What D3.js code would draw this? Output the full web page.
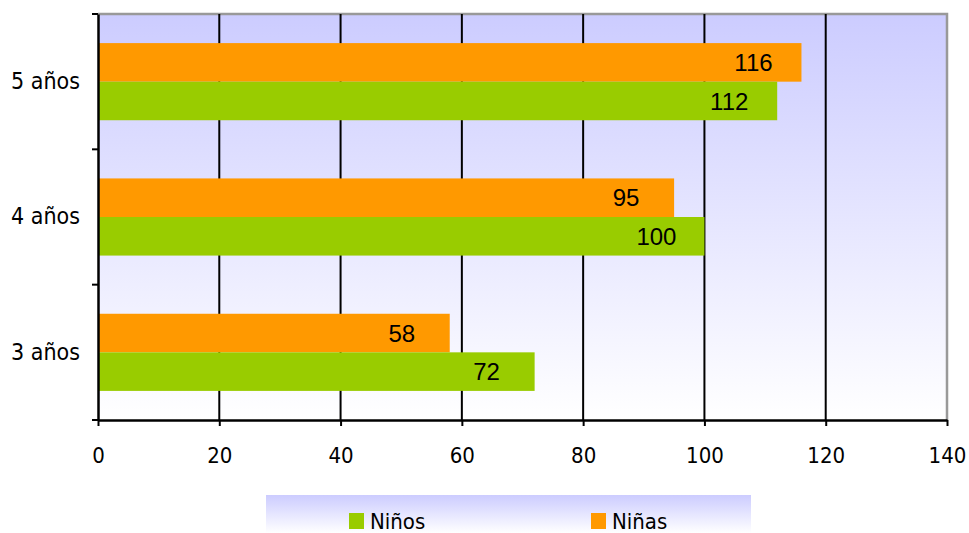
<!DOCTYPE html>
<html><head><meta charset="utf-8">
<script src="https://cdn.jsdelivr.net/npm/d3@7"></script>
<style>html,body{margin:0;padding:0;background:#fff;}svg{display:block;}</style>
</head><body>
<svg id="chart" width="969" height="533"></svg>
<script>
const categories = ["5 años", "4 años", "3 años"];
const seriesNames = ["Niñas", "Niños"];
const ninas = [116, 95, 58];
const ninos = [112, 100, 72];
const xTicks = [0, 20, 40, 60, 80, 100, 120, 140];
const legendOrder = ["Niños", "Niñas"];

const colors = {"Niños": "#99cc00", "Niñas": "#ff9900"};
const values = {"Niñas": ninas, "Niños": ninos};

const svg = d3.select("#chart");
const L = 98, R = 947, T = 14, B = 420;
const axisFont = "'DejaVu Sans Condensed', Tahoma, sans-serif";
const labelFont = "'Liberation Sans Narrow', 'Arial Narrow', sans-serif";

const defs = svg.append("defs");
const g1 = defs.append("linearGradient").attr("id", "bg").attr("x1", 0).attr("y1", 0).attr("x2", 0).attr("y2", 1);
g1.append("stop").attr("offset", "0%").attr("stop-color", "#ccccff");
g1.append("stop").attr("offset", "100%").attr("stop-color", "#ffffff");
const g2 = defs.append("linearGradient").attr("id", "lg").attr("x1", 0).attr("y1", 0).attr("x2", 0).attr("y2", 1);
g2.append("stop").attr("offset", "0%").attr("stop-color", "#ccccff");
g2.append("stop").attr("offset", "100%").attr("stop-color", "#ffffff");

const x = d3.scaleLinear().domain([0, 140]).range([L, R]);
const y = d3.scaleBand().domain(categories).range([T, B]).paddingInner(0.43).paddingOuter(0.215);
const y0 = d3.scaleBand().domain(categories).range([T, B]);
const ys = d3.scaleBand().domain(seriesNames).range([0, y.bandwidth()]);

// plot background
svg.append("rect").attr("x", L).attr("y", T).attr("width", R - L).attr("height", B - T).attr("fill", "url(#bg)");
// border top/right gray
svg.append("path").attr("d", `M${L},${T}H${R}V${B}`).attr("fill", "none").attr("stroke", "#999999").attr("stroke-width", 2.5);

// gridlines
svg.append("g").selectAll("line").data(xTicks.filter(t => t > 0 && t < 140)).join("line")
  .attr("x1", d => x(d)).attr("x2", d => x(d)).attr("y1", T).attr("y2", B)
  .attr("stroke", "#000").attr("stroke-width", 2);

// bars
const grp = svg.append("g").selectAll("g").data(categories).join("g")
  .attr("transform", d => `translate(0,${y(d)})`);
grp.selectAll("rect").data((c, i) => seriesNames.map(s => ({s, v: values[s][i]}))).join("rect")
  .attr("x", x(0)).attr("y", d => ys(d.s)).attr("height", ys.bandwidth())
  .attr("width", d => x(d.v) - x(0)).attr("fill", d => colors[d.s]);
grp.selectAll("text").data((c, i) => seriesNames.map(s => ({s, v: values[s][i]}))).join("text")
  .attr("x", d => x(d.v) - 48).attr("y", d => ys(d.s) + ys.bandwidth() / 2)
  .attr("dy", "0.36em").attr("text-anchor", "middle")
  .attr("font-family", labelFont).attr("font-size", 24).attr("fill", "#000")
  .text(d => d.v);

// x axis
const xa = svg.append("g").attr("transform", `translate(0,${B})`)
  .call(d3.axisBottom(x).tickValues(xTicks).tickSize(6).tickSizeOuter(0));
xa.select(".domain").attr("stroke", "#000").attr("stroke-width", 2.5);
xa.selectAll(".tick line").attr("stroke", "#000").attr("stroke-width", 2);
xa.selectAll(".tick text").attr("font-family", axisFont).attr("font-size", 22).attr("fill", "#000")
  .attr("y", 43).attr("dy", "0");

// y axis
const ya = svg.append("g").attr("transform", `translate(${L},0)`)
  .call(d3.axisLeft(y0).tickSize(0).tickPadding(18));
ya.select(".domain").attr("stroke", "#000").attr("stroke-width", 2.5);
ya.selectAll(".tick text").attr("font-family", axisFont).attr("font-size", 23).attr("fill", "#000");
svg.append("g").selectAll("line").data([T, ...categories.map(c => y0(c) + y0.bandwidth())]).join("line")
  .attr("x1", L - 6).attr("x2", L).attr("y1", d => d).attr("y2", d => d)
  .attr("stroke", "#000").attr("stroke-width", 2);

// legend
const lg = svg.append("g");
lg.append("rect").attr("x", 266).attr("y", 495).attr("width", 485).attr("height", 38).attr("fill", "url(#lg)");
const lx = d3.scalePoint().domain(legendOrder).range([349, 591]);
const li = lg.selectAll("g").data(legendOrder).join("g").attr("transform", d => `translate(${lx(d)},513)`);
li.append("rect").attr("width", 15).attr("height", 16).attr("fill", d => colors[d]);
li.append("text").attr("x", 21).attr("y", 16)
  .attr("font-family", axisFont).attr("font-size", 22).attr("fill", "#000").text(d => d);
</script>
</body></html>
